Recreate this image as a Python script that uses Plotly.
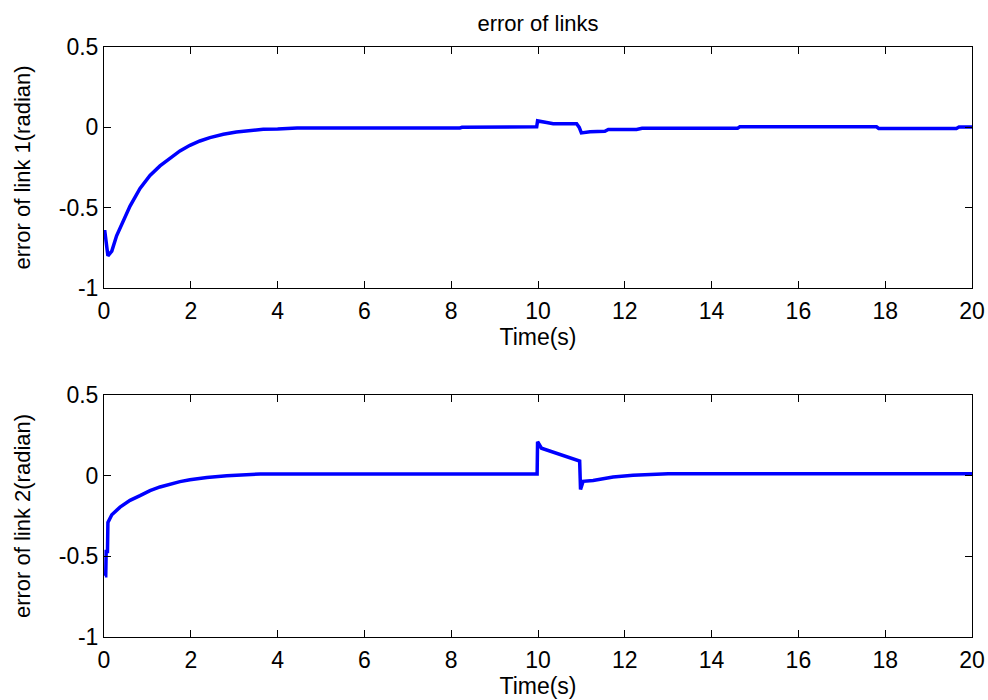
import plotly.graph_objects as go

# Tracking error of link 1 (radian) vs time (s)
t_link1 = [0, 0.02, 0.09, 0.18, 0.29, 0.45, 0.6, 0.83, 1.06, 1.29, 1.52, 1.75, 1.98,
           2.21, 2.44, 2.75, 3.05, 3.36, 3.67, 4.0, 4.4, 4.45, 8.2, 8.25, 9.97, 9.99,
           10.2, 10.35, 10.89, 10.95, 11.0, 11.2, 11.54, 11.62, 12.27, 12.4, 14.6,
           14.65, 17.8, 17.85, 19.64, 19.7, 20]
err_link1 = [-0.65, -0.65, -0.80, -0.77, -0.675, -0.58, -0.49, -0.38, -0.30, -0.24,
             -0.19, -0.147, -0.112, -0.085, -0.064, -0.043, -0.029, -0.019, -0.012,
             -0.010, -0.008, -0.004, -0.004, 0.0, 0.003, 0.04, 0.03, 0.022, 0.022,
             0.0, -0.035, -0.028, -0.024, -0.013, -0.013, -0.006, -0.005, 0.003,
             0.003, -0.007, -0.007, 0.002, 0.002]

# Tracking error of link 2 (radian) vs time (s)
t_link2 = [0.02, 0.04, 0.05, 0.08, 0.09, 0.18, 0.37, 0.6, 0.83, 1.06, 1.29, 1.52,
           1.75, 1.98, 2.37, 2.83, 3.52, 3.6, 9.98, 9.99, 10.08, 10.93, 10.96, 10.98,
           11.04, 11.27, 11.5, 11.73, 12.19, 12.96, 13.0, 20]
err_link2 = [-0.62, -0.62, -0.47, -0.47, -0.29, -0.242, -0.195, -0.153, -0.124,
             -0.093, -0.07, -0.052, -0.037, -0.025, -0.011, 0.0, 0.008, 0.01, 0.01,
             0.21, 0.17, 0.09, 0.09, -0.085, -0.035, -0.03, -0.02, -0.008, 0.002,
             0.01, 0.012, 0.012]

x_ticks = list(range(0, 21, 2))
y_ticks = [-1, -0.5, 0, 0.5]
y_tick_text = ["-1", "-0.5", "0", "0.5"]

FONT = "Arial, 'Liberation Sans', sans-serif"
LINE = dict(color="#0000ff", width=3.5)

fig = go.Figure()
fig.add_trace(go.Scatter(x=t_link1, y=err_link1, mode="lines", line=LINE,
                         xaxis="x", yaxis="y", showlegend=False))
fig.add_trace(go.Scatter(x=t_link2, y=err_link2, mode="lines", line=LINE,
                         xaxis="x2", yaxis="y2", showlegend=False))

xcommon = dict(range=[0, 20], tickvals=x_ticks, ticks="inside", ticklen=7,
               tickcolor="black", showline=True, linecolor="black", linewidth=1,
               mirror="ticks", showgrid=False, zeroline=False, automargin=False,
               ticklabelstandoff=2,
               tickfont=dict(family=FONT, size=23, color="black"),
               title=dict(text="Time(s)", font=dict(family=FONT, size=23, color="black"),
                          standoff=0))
ycommon = dict(range=[-1, 0.5], tickvals=y_ticks, ticktext=y_tick_text,
               ticks="inside", ticklen=7, tickcolor="black", showline=True,
               linecolor="black", linewidth=1, mirror="ticks", showgrid=False,
               zeroline=False, automargin=False,
               tickfont=dict(family=FONT, size=23, color="black"))

fig.update_layout(
    width=988, height=700,
    margin=dict(l=104, r=16, t=47, b=63),
    paper_bgcolor="white", plot_bgcolor="white",
    title=dict(text="error of links", x=538 / 988, xanchor="center",
               y=1 - 23 / 700, yanchor="middle",
               font=dict(family=FONT, size=22, color="black")),
    xaxis=dict(domain=[0, 1], anchor="y", **xcommon),
    yaxis=dict(domain=[0.5915, 1], anchor="x",
               title=dict(text="error of link 1(radian)",
                          font=dict(family=FONT, size=22, color="black"), standoff=22),
               **ycommon),
    xaxis2=dict(domain=[0, 1], anchor="y2", **xcommon),
    yaxis2=dict(domain=[0, 0.4102], anchor="x2",
                title=dict(text="error of link 2(radian)",
                           font=dict(family=FONT, size=22, color="black"), standoff=22),
                **ycommon),
)

fig.write_html("out.html")
